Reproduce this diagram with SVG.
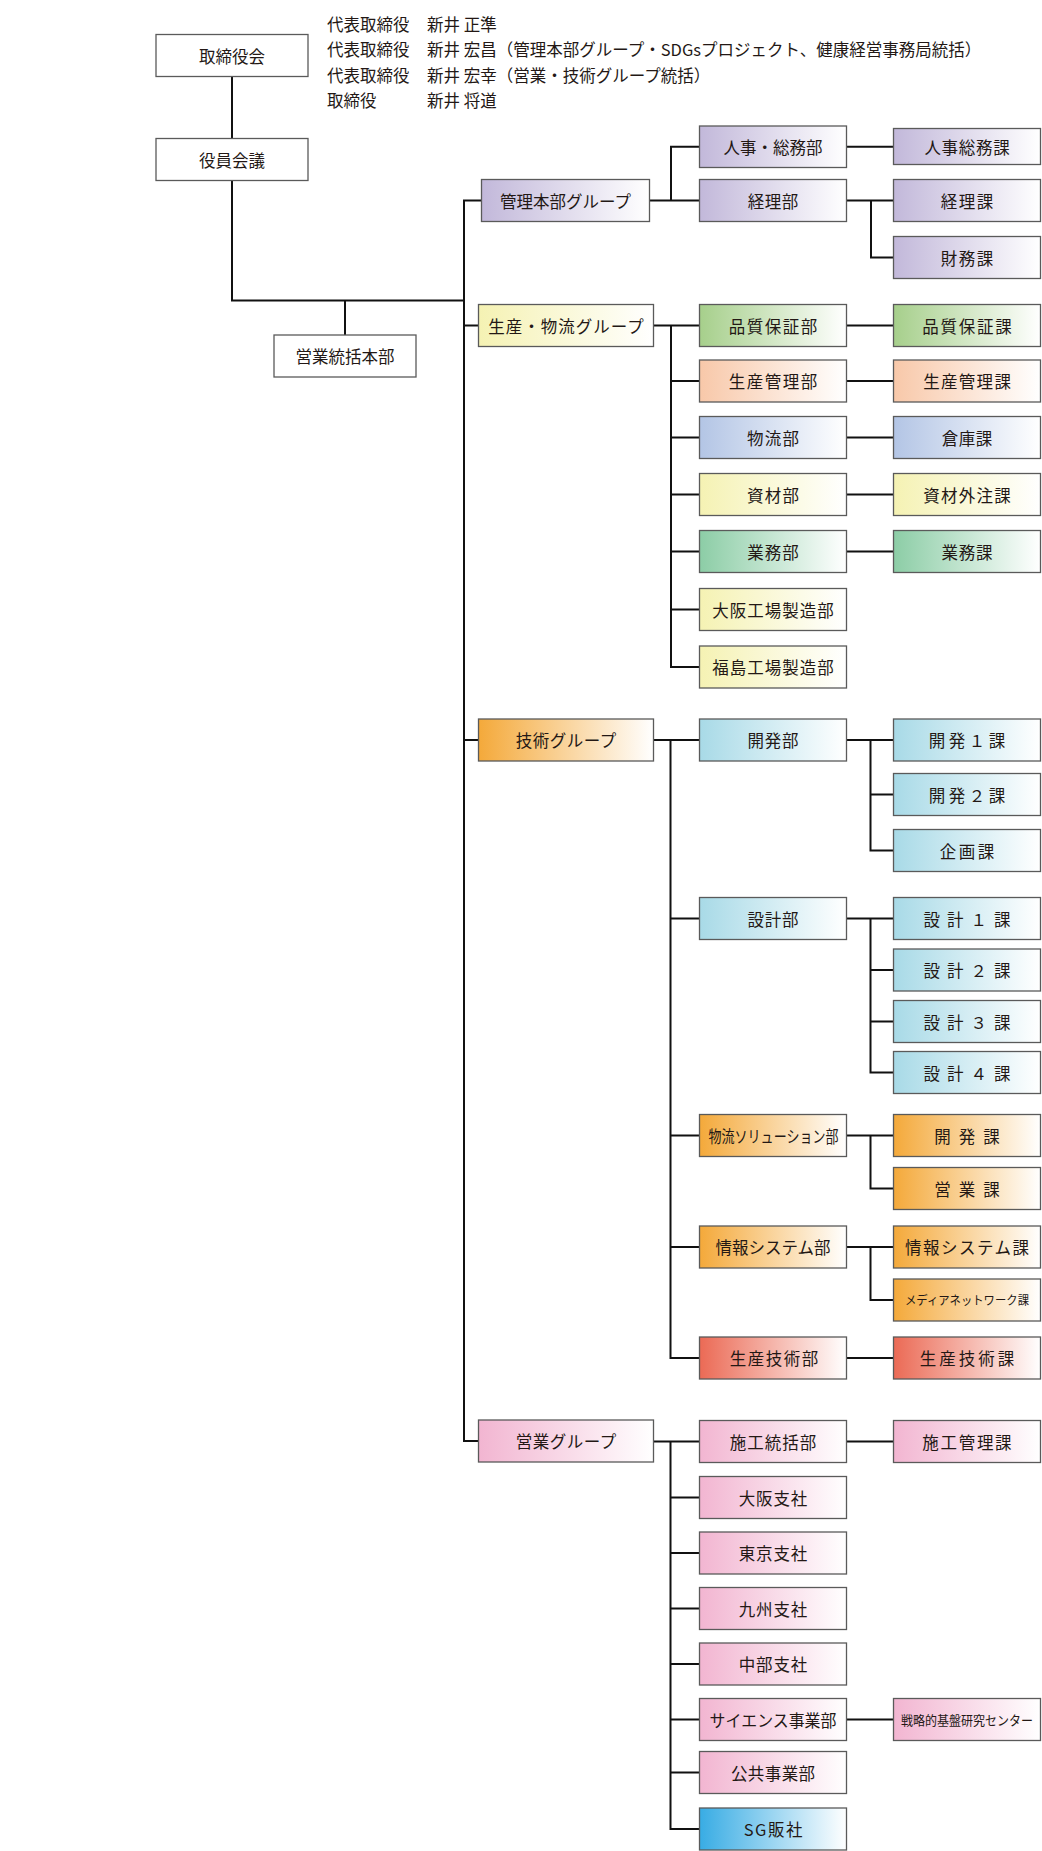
<svg xmlns="http://www.w3.org/2000/svg" width="1042" height="1851" viewBox="0 0 1042 1851">
<style>
text{font-family:"Noto Sans CJK JP","Noto Sans",sans-serif;font-size:16.5px;fill:#231815;}
.c{text-anchor:middle;dominant-baseline:central;}
.h{dominant-baseline:central;}
.s{font-size:13px;}
.xs{font-size:12.2px;}
rect{stroke:#5a5a5a;stroke-width:1.3;}
.w{fill:#fff;}
.con path{fill:none;stroke:#111;stroke-width:2;}
</style>
<defs>
<linearGradient id="gPurple"><stop offset="0" stop-color="#c2b8da"/><stop offset="1" stop-color="#fff"/></linearGradient>
<linearGradient id="gYellow"><stop offset="0" stop-color="#f5f2b3"/><stop offset="1" stop-color="#fff"/></linearGradient>
<linearGradient id="gGreen"><stop offset="0" stop-color="#a6cf8b"/><stop offset="1" stop-color="#fff"/></linearGradient>
<linearGradient id="gPeach"><stop offset="0" stop-color="#f8c8a9"/><stop offset="1" stop-color="#fff"/></linearGradient>
<linearGradient id="gBlue"><stop offset="0" stop-color="#b3c5e5"/><stop offset="1" stop-color="#fff"/></linearGradient>
<linearGradient id="gTeal"><stop offset="0" stop-color="#8ccda6"/><stop offset="1" stop-color="#fff"/></linearGradient>
<linearGradient id="gOrange"><stop offset="0" stop-color="#f4a93a"/><stop offset="1" stop-color="#fff"/></linearGradient>
<linearGradient id="gCyan"><stop offset="0" stop-color="#a8dae7"/><stop offset="1" stop-color="#fff"/></linearGradient>
<linearGradient id="gRed"><stop offset="0" stop-color="#eb6a55"/><stop offset="1" stop-color="#fff"/></linearGradient>
<linearGradient id="gPink"><stop offset="0" stop-color="#f2b5d1"/><stop offset="1" stop-color="#fff"/></linearGradient>
<linearGradient id="gSky"><stop offset="0" stop-color="#38ace4"/><stop offset="1" stop-color="#fff"/></linearGradient>
</defs>

<g id="officers">
<text class="h" x="327" y="23.5">代表取締役</text><text class="h" x="427" y="23.5">新井 正準</text>
<text class="h" x="327" y="49">代表取締役</text><text class="h" x="427" y="49">新井 宏昌（管理本部グループ・SDGsプロジェクト、健康経営事務局統括）</text>
<text class="h" x="327" y="74.5">代表取締役</text><text class="h" x="427" y="74.5">新井 宏幸（営業・技術グループ統括）</text>
<text class="h" x="327" y="100">取締役</text><text class="h" x="427" y="100">新井 将道</text>
</g>

<g class="con" id="connectors">
<path d="M232,76.5V138.5"/>
<path d="M232,180.5V300.5H464"/>
<path d="M345,300.5V335"/>
<path d="M481.5,200.5H464V1441H478.5"/>
<path d="M464,325.5H478.5"/>
<path d="M464,740H478.5"/>
<path d="M649.5,200.5H699.5"/>
<path d="M671,200.5V146.7H699.5"/>
<path d="M846.5,146.7H893.5"/>
<path d="M846.5,200.5H893.5"/>
<path d="M871,200.5V257.5H893.5"/>
<path d="M653.5,325.5H699.5"/>
<path d="M671,325.5V667H699.5"/>
<path d="M671,381H699.5M671,437.5H699.5M671,494.5H699.5M671,551.5H699.5M671,609.5H699.5"/>
<path d="M846.5,325.5H893.5M846.5,381H893.5M846.5,437.5H893.5M846.5,494.5H893.5M846.5,551.5H893.5"/>
<path d="M653.5,740H699.5"/>
<path d="M670.5,740V1358H699.5"/>
<path d="M670.5,918.5H699.5M670.5,1135.5H699.5M670.5,1247H699.5"/>
<path d="M846.5,740H893.5"/>
<path d="M870.5,740V850.5H893.5M870.5,794.5H893.5"/>
<path d="M846.5,918.5H893.5"/>
<path d="M870.5,918.5V1072.5H893.5M870.5,970H893.5M870.5,1021.5H893.5"/>
<path d="M846.5,1135.5H893.5"/>
<path d="M870.5,1135.5V1188.5H893.5"/>
<path d="M846.5,1247H893.5"/>
<path d="M870.5,1247V1300H893.5"/>
<path d="M846.5,1358H893.5"/>
<path d="M653.5,1441.5H699.5"/>
<path d="M670.5,1441.5V1829H699.5"/>
<path d="M670.5,1497.5H699.5M670.5,1553H699.5M670.5,1608.5H699.5M670.5,1664H699.5M670.5,1719.5H699.5M670.5,1772.5H699.5"/>
<path d="M846.5,1441.5H893.5"/>
<path d="M846.5,1719.5H893.5"/>
</g>

<g id="n-torishimariyakukai"><rect class="w" x="156" y="34.5" width="152" height="42"/><text class="c" x="232" y="55.5">取締役会</text></g>
<g id="n-yakuinkaigi"><rect class="w" x="156" y="138.5" width="152" height="42"/><text class="c" x="232" y="159.5">役員会議</text></g>
<g id="n-eigyotokatsu"><rect class="w" x="274" y="335" width="142" height="42"/><text class="c" x="345" y="356">営業統括本部</text></g>

<g id="n-kanri-group"><rect fill="url(#gPurple)" x="481.5" y="179.5" width="168" height="42"/><text class="c" x="565.5" y="200.5">管理本部グループ</text></g>
<g id="n-jinji-bu"><rect fill="url(#gPurple)" x="699.5" y="126" width="147" height="41.5"/><text class="c" x="773" y="146.7">人事・総務部</text></g>
<g id="n-keiri-bu"><rect fill="url(#gPurple)" x="699.5" y="179.5" width="147" height="42"/><text class="c" x="773.3" y="200.5" letter-spacing="0.5">経理部</text></g>
<g id="n-jinji-ka"><rect fill="url(#gPurple)" x="893.5" y="128.5" width="147" height="36"/><text class="c" x="967.4" y="146.7" letter-spacing="0.7">人事総務課</text></g>
<g id="n-keiri-ka"><rect fill="url(#gPurple)" x="893.5" y="179.5" width="147" height="42"/><text class="c" x="967.8" y="200.5" letter-spacing="1.5">経理課</text></g>
<g id="n-zaimu-ka"><rect fill="url(#gPurple)" x="893.5" y="236.5" width="147" height="42"/><text class="c" x="967.8" y="257.5" letter-spacing="1.5">財務課</text></g>

<g id="n-seisan-group"><rect fill="url(#gYellow)" x="478.5" y="304.5" width="175" height="42"/><text class="c" x="566.5" y="325.5" letter-spacing="1">生産・物流グループ</text></g>
<g id="n-hinshitsu-bu"><rect fill="url(#gGreen)" x="699.5" y="304.5" width="147" height="42"/><text class="c" x="773.8" y="325.5" letter-spacing="1.5">品質保証部</text></g>
<g id="n-seisankanri-bu"><rect fill="url(#gPeach)" x="699.5" y="360" width="147" height="42"/><text class="c" x="773.8" y="381" letter-spacing="1.5">生産管理部</text></g>
<g id="n-butsuryu-bu"><rect fill="url(#gBlue)" x="699.5" y="416.5" width="147" height="42"/><text class="c" x="773.7" y="437.5" letter-spacing="1.3">物流部</text></g>
<g id="n-shizai-bu"><rect fill="url(#gYellow)" x="699.5" y="473.5" width="147" height="42"/><text class="c" x="773.7" y="494.5" letter-spacing="1.3">資材部</text></g>
<g id="n-gyomu-bu"><rect fill="url(#gTeal)" x="699.5" y="530.5" width="147" height="42"/><text class="c" x="773.5" y="551.5" letter-spacing="1">業務部</text></g>
<g id="n-osaka-kojo"><rect fill="url(#gYellow)" x="699.5" y="588.5" width="147" height="42"/><text class="c" x="773.5" y="609.5" letter-spacing="1">大阪工場製造部</text></g>
<g id="n-fukushima-kojo"><rect fill="url(#gYellow)" x="699.5" y="646" width="147" height="42"/><text class="c" x="773.5" y="667" letter-spacing="1">福島工場製造部</text></g>
<g id="n-hinshitsu-ka"><rect fill="url(#gGreen)" x="893.5" y="304.5" width="147" height="42"/><text class="c" x="967.9" y="325.5" letter-spacing="1.8">品質保証課</text></g>
<g id="n-seisankanri-ka"><rect fill="url(#gPeach)" x="893.5" y="360" width="147" height="42"/><text class="c" x="967.7" y="381" letter-spacing="1.3">生産管理課</text></g>
<g id="n-soko-ka"><rect fill="url(#gBlue)" x="893.5" y="416.5" width="147" height="42"/><text class="c" x="967.3" y="437.5" letter-spacing="0.5">倉庫課</text></g>
<g id="n-shizai-ka"><rect fill="url(#gYellow)" x="893.5" y="473.5" width="147" height="42"/><text class="c" x="967.6" y="494.5" letter-spacing="1.2">資材外注課</text></g>
<g id="n-gyomu-ka"><rect fill="url(#gTeal)" x="893.5" y="530.5" width="147" height="42"/><text class="c" x="967.4" y="551.5" letter-spacing="0.8">業務課</text></g>

<g id="n-gijutsu-group"><rect fill="url(#gOrange)" x="478.5" y="719" width="175" height="42"/><text class="c" x="566.3" y="740" letter-spacing="0.5">技術グループ</text></g>
<g id="n-kaihatsu-bu"><rect fill="url(#gCyan)" x="699.5" y="719" width="147" height="42"/><text class="c" x="773.4" y="740" letter-spacing="0.8">開発部</text></g>
<g id="n-kaihatsu1"><rect fill="url(#gCyan)" x="893.5" y="719" width="147" height="42"/><text class="c" x="968.8" y="740" letter-spacing="3.5">開発１課</text></g>
<g id="n-kaihatsu2"><rect fill="url(#gCyan)" x="893.5" y="773.5" width="147" height="42"/><text class="c" x="968.8" y="794.5" letter-spacing="3.5">開発２課</text></g>
<g id="n-kikaku"><rect fill="url(#gCyan)" x="893.5" y="829.5" width="147" height="42"/><text class="c" x="968.3" y="850.5" letter-spacing="2.5">企画課</text></g>
<g id="n-sekkei-bu"><rect fill="url(#gCyan)" x="699.5" y="897.5" width="147" height="42"/><text class="c" x="773.4" y="918.5" letter-spacing="0.8">設計部</text></g>
<g id="n-sekkei1"><rect fill="url(#gCyan)" x="893.5" y="897.5" width="147" height="42"/><text class="c" x="970.5" y="918.5" letter-spacing="7">設計１課</text></g>
<g id="n-sekkei2"><rect fill="url(#gCyan)" x="893.5" y="949" width="147" height="42"/><text class="c" x="970.5" y="970" letter-spacing="7">設計２課</text></g>
<g id="n-sekkei3"><rect fill="url(#gCyan)" x="893.5" y="1000.5" width="147" height="42"/><text class="c" x="970.5" y="1021.5" letter-spacing="7">設計３課</text></g>
<g id="n-sekkei4"><rect fill="url(#gCyan)" x="893.5" y="1051.5" width="147" height="42"/><text class="c" x="970.5" y="1072.5" letter-spacing="7">設計４課</text></g>
<g id="n-solution-bu"><rect fill="url(#gOrange)" x="699.5" y="1114.5" width="147" height="42"/><text class="c" x="773.5" y="1135.5" textLength="130" lengthAdjust="spacingAndGlyphs">物流ソリューション部</text></g>
<g id="n-kaihatsu-ka"><rect fill="url(#gOrange)" x="893.5" y="1114.5" width="147" height="42"/><text class="c" x="971" y="1135.5" letter-spacing="8">開発課</text></g>
<g id="n-eigyo-ka"><rect fill="url(#gOrange)" x="893.5" y="1167.5" width="147" height="42"/><text class="c" x="971" y="1188.5" letter-spacing="8">営業課</text></g>
<g id="n-joho-bu"><rect fill="url(#gOrange)" x="699.5" y="1226" width="147" height="42"/><text class="c" x="773" y="1247">情報システム部</text></g>
<g id="n-joho-ka"><rect fill="url(#gOrange)" x="893.5" y="1226" width="147" height="42"/><text class="c" x="967.8" y="1247" letter-spacing="1.5">情報システム課</text></g>
<g id="n-media-ka"><rect fill="url(#gOrange)" x="893.5" y="1279" width="147" height="42"/><text class="c xs" x="967" y="1300" textLength="124" lengthAdjust="spacingAndGlyphs">メディアネットワーク課</text></g>
<g id="n-seisangijutsu-bu"><rect fill="url(#gRed)" x="699.5" y="1337" width="147" height="42"/><text class="c" x="774.8" y="1358" letter-spacing="1.5">生産技術部</text></g>
<g id="n-seisangijutsu-ka"><rect fill="url(#gRed)" x="893.5" y="1337" width="147" height="42"/><text class="c" x="968.5" y="1358" letter-spacing="3">生産技術課</text></g>

<g id="n-eigyo-group"><rect fill="url(#gPink)" x="478.5" y="1420" width="175" height="42"/><text class="c" x="566.3" y="1441" letter-spacing="0.5">営業グループ</text></g>
<g id="n-seko-bu"><rect fill="url(#gPink)" x="699.5" y="1420.5" width="147" height="42"/><text class="c" x="773.5" y="1441.5" letter-spacing="1">施工統括部</text></g>
<g id="n-seko-ka"><rect fill="url(#gPink)" x="893.5" y="1420.5" width="147" height="42"/><text class="c" x="967.8" y="1441.5" letter-spacing="1.7">施工管理課</text></g>
<g id="n-osaka"><rect fill="url(#gPink)" x="699.5" y="1476.5" width="147" height="42"/><text class="c" x="773.4" y="1497.5" letter-spacing="0.8">大阪支社</text></g>
<g id="n-tokyo"><rect fill="url(#gPink)" x="699.5" y="1532" width="147" height="42"/><text class="c" x="773.4" y="1553" letter-spacing="0.8">東京支社</text></g>
<g id="n-kyushu"><rect fill="url(#gPink)" x="699.5" y="1587.5" width="147" height="42"/><text class="c" x="773.4" y="1608.5" letter-spacing="0.8">九州支社</text></g>
<g id="n-chubu"><rect fill="url(#gPink)" x="699.5" y="1643" width="147" height="42"/><text class="c" x="773.4" y="1664" letter-spacing="0.8">中部支社</text></g>
<g id="n-science"><rect fill="url(#gPink)" x="699.5" y="1698.5" width="147" height="42"/><text class="c" x="773" y="1719.5" textLength="127" lengthAdjust="spacingAndGlyphs">サイエンス事業部</text></g>
<g id="n-senryaku"><rect fill="url(#gPink)" x="893.5" y="1698.5" width="147" height="42"/><text class="c s" x="967" y="1719.5" textLength="132" lengthAdjust="spacingAndGlyphs">戦略的基盤研究センター</text></g>
<g id="n-kokyo"><rect fill="url(#gPink)" x="699.5" y="1751.5" width="147" height="42"/><text class="c" x="773.2" y="1772.5" letter-spacing="0.4">公共事業部</text></g>
<g id="n-sg"><rect fill="url(#gSky)" x="699.5" y="1808" width="147" height="42"/><text class="c" x="773.8" y="1829" letter-spacing="1.5">SG販社</text></g>
</svg>
